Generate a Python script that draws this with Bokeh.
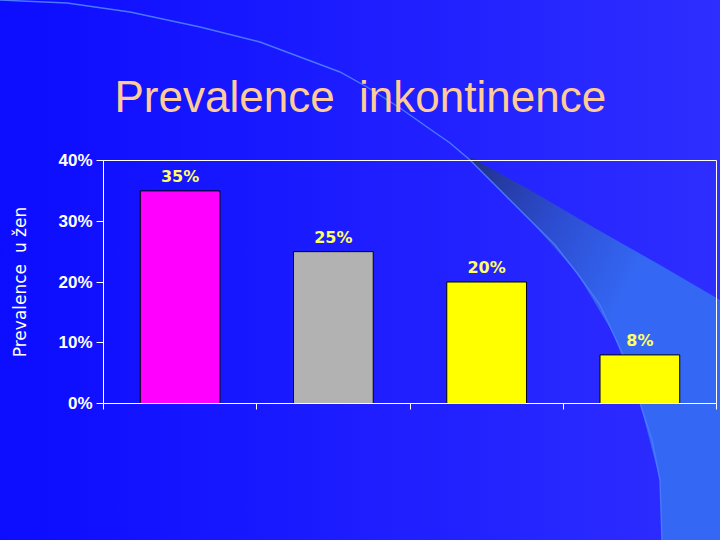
from urllib.parse import quote
from bokeh.plotting import figure
from bokeh.models import FixedTicker, NumeralTickFormatter, Range1d, Title
from bokeh.core.properties import value
from bokeh.embed import file_html
from bokeh.resources import INLINE

# ---------------- data ----------------
categories = ["A", "B", "C", "D"]
prevalence = [0.35, 0.25, 0.20, 0.08]
bar_labels = ["35%", "25%", "20%", "8%"]
bar_colors = ["#ff00ff", "#b2b2b2", "#ffff00", "#ffff00"]
y_ticks = [0.0, 0.1, 0.2, 0.3, 0.4]
# the second space is a no-break space so that the double gap survives in SVG
title_text = "Prevalence \u00a0inkontinence"
y_title = "Prevalence \u00a0u žen"

W, H = 720, 540

# ---------------- slide decoration (CSS background behind a transparent canvas) ----------------
def pts(seq):
    return " ".join("%g,%g" % (a, b) for a, b in seq)

wedge = [(470, 157), (530, 190), (593, 227), (660, 265), (720, 300), (720, 540),
         (662, 540), (660, 480), (640, 403), (613, 333), (577, 273), (527, 217), (470, 160)]
arc = [(0, 0), (67, 3), (130, 12), (200, 27), (260, 42), (300, 57), (340, 72), (367, 87),
       (400, 108), (427, 127), (450, 143), (470, 160), (500, 190), (527, 217), (555, 245),
       (577, 273), (600, 305), (613, 333), (628, 365), (640, 403), (652, 440), (660, 480),
       (662, 540)]
svg = (
    '<svg xmlns="http://www.w3.org/2000/svg" width="%d" height="%d" viewBox="0 0 %d %d">' % (W, H, W, H)
    + '<defs>'
    + '<linearGradient id="bg" x1="0" y1="0" x2="720" y2="0" gradientUnits="userSpaceOnUse">'
    + '<stop offset="0" stop-color="#0c0cff"/><stop offset="1" stop-color="#2e2eff"/></linearGradient>'
    + '<linearGradient id="wd" x1="470" y1="160" x2="650" y2="250" gradientUnits="userSpaceOnUse">'
    + '<stop offset="0" stop-color="#22308a"/><stop offset="0.5" stop-color="#2c4cd0"/>'
    + '<stop offset="1" stop-color="#3468f4"/></linearGradient>'
    + '</defs>'
    + '<rect x="0" y="0" width="720" height="540" fill="url(#bg)"/>'
    + '<polygon points="%s" fill="url(#wd)"/>' % pts(wedge)
    + '<polyline points="%s" fill="none" stroke="#4a78ff" stroke-width="1.4"/>' % pts(arc)
    + '</svg>'
)
bg_css = 'url("data:image/svg+xml,%s")' % quote(svg)

p = figure(width=W, height=H, output_backend="svg", toolbar_location=None,
           x_range=Range1d(0, len(categories)), y_range=Range1d(0, 0.4),
           min_border_left=103, min_border_right=4, min_border_top=160,
           min_border_bottom=137)
p.styles = {"background-color": "#1c1cff", "background-image": bg_css,
            "background-repeat": "no-repeat"}
p.background_fill_color = None
p.border_fill_color = None
p.outline_line_color = "white"
p.outline_line_width = 1
p.grid.visible = False

# title
p.title = Title(text=title_text, align="left", offset=11, standoff=80,
                text_font="Liberation Sans", text_font_style="normal",
                text_font_size="44px", text_color="#ffcc99")

# bars
xpos = [i + 0.5 for i in range(len(categories))]
p.vbar(x=xpos, top=prevalence, width=0.52, fill_color=bar_colors,
       line_color="black", line_width=1)
p.text(x=xpos, y=prevalence, text=bar_labels, y_offset=-5,
       text_align="center", text_baseline="bottom",
       text_font=value("DejaVu Sans"), text_font_style="bold",
       text_font_size="16px", text_color="#ffff66")

# axes
yax = p.yaxis[0]
yax.ticker = FixedTicker(ticks=y_ticks)
yax.formatter = NumeralTickFormatter(format="0%")
yax.axis_line_color = "white"
yax.major_tick_line_color = "white"
yax.minor_tick_line_color = None
yax.major_tick_out = 7
yax.major_tick_in = 0
yax.major_label_standoff = 4
yax.major_label_text_color = "white"
yax.major_label_text_font = "Liberation Sans"
yax.major_label_text_font_style = "bold"
yax.major_label_text_font_size = "17px"
yax.axis_label = y_title
yax.axis_label_text_color = "white"
yax.axis_label_text_font = "DejaVu Sans"
yax.axis_label_text_font_style = "normal"
yax.axis_label_text_font_size = "17px"
yax.axis_label_standoff = 25

xax = p.xaxis[0]
xax.ticker = FixedTicker(ticks=list(range(len(categories) + 1)))
xax.axis_line_color = "white"
xax.major_tick_line_color = "white"
xax.minor_tick_line_color = None
xax.major_tick_out = 6
xax.major_tick_in = 0
xax.major_label_text_font_size = "0px"
xax.major_label_text_color = None

open("out.html", "w").write(file_html(p, INLINE))
